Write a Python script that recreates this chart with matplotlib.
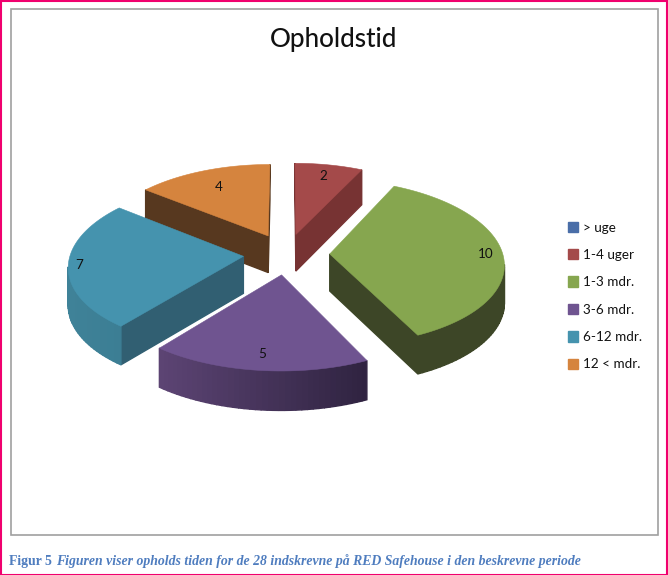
import matplotlib
matplotlib.use("Agg")
import matplotlib.pyplot as plt,numpy as np
from matplotlib.patches import Polygon,Patch,Rectangle
from matplotlib.colors import to_rgb

title="Opholdstid"
labels=["> uge","1-4 uger","1-3 mdr.","3-6 mdr.","6-12 mdr.","12 < mdr."]
values=[0,2,10,5,7,4]
colors=["#4A6EA8","#A44A4A","#86A64F","#6F5490","#4593AE","#D5843E"]
radial_colors=["#2C4265","#773333","#3D4627","#42325A","#315F72","#57381F"]
outer_left=["#2C4265","#773333","#3D4627","#5C4474","#3F8298","#57381F"]
outer_right=["#2C4265","#773333","#3D4627","#2F2340","#34748A","#57381F"]
label_r=[1,.83,.90,.84,.94,.74]
cap_a="Figur 5 "
cap_b="Figuren viser opholds tiden for de 28 indskrevne på RED Safehouse i den beskrevne periode"

# projection of the pie plane on the page, in pixels
cx,cy,rx,ry,px,py,depth,expl=286.5,254,173,82,.11,.10,37,.25

def proj(u,v):
 return cx+rx*u/(1+px*v),cy-ry*v/(1+py*v)
def drop(v):
 return depth/(1+.05*v)
def mix(a,b,t):
 a,b=np.array(to_rgb(a)),np.array(to_rgb(b))
 return tuple(a+(b-a)*t)

fig=plt.figure(figsize=(6.68,5.75),dpi=100)
ax=fig.add_axes([0,0,1,1])
ax.set_xlim(0,668);ax.set_ylim(575,0);ax.axis("off")

ax.add_patch(Rectangle((.5,.5),666.5,574,fill=False,ec="#F0006E",lw=1.5))
ax.add_patch(Rectangle((10.5,8.5),647,526,fill=False,ec="#A0A0A0",lw=1.2))

ax.text(334,39,title,ha="center",va="center",fontsize=18.8,family="Lato",weight="medium",color="#111111")

ang=np.cumsum([0]+values)/sum(values)*2*np.pi
mids=(ang[:-1]+ang[1:])/2
# painter order, back slices first
order=sorted([i for i in range(len(values)) if values[i]>0],key=lambda i:-np.cos(mids[i]))
for i in order:
 eu,ev=expl*np.sin(mids[i]),expl*np.cos(mids[i])
 t=np.linspace(ang[i],ang[i+1],max(values[i]*8,8))
 us=np.r_[eu,eu+np.sin(t)];vs=np.r_[ev,ev+np.cos(t)]
 xs,ys=proj(us,vs)
 n=len(us)
 for a in range(n):
  b=(a+1)%n
  if xs[b]>=xs[a]:continue
  rad=a==0 or b==0
  if rad:c=radial_colors[i]
  else:
   m=(xs[a]+xs[b])/2
   c=mix(outer_left[i],outer_right[i],np.clip((m-xs.min())/(xs.max()-xs.min()),0,1))
  q=[(xs[a],ys[a]),(xs[b],ys[b]),(xs[b],ys[b]+drop(vs[b])),(xs[a],ys[a]+drop(vs[a]))]
  ax.add_patch(Polygon(q,fc=c,ec=c,lw=1))
 ax.add_patch(Polygon(np.c_[xs,ys],fc=colors[i],ec=colors[i],lw=.4))

for i in range(len(values)):
 if values[i]==0:continue
 r=expl+label_r[i]
 x,y=proj(r*np.sin(mids[i]),r*np.cos(mids[i]))
 ax.text(x,y,str(values[i]),ha="center",va="center",fontsize=9.7,family="Lato",color="#111111")

h=[Patch(fc=c,ec=c) for c in colors]
ax.legend(h,labels,loc="center left",bbox_to_anchor=(555.5/668,1-296/575),frameon=False,
 prop={"family":"Lato","size":9.7},labelspacing=1.14,handlelength=.8,handleheight=.8,handletextpad=.35,labelcolor="#111111")

ta=ax.text(9,561,cap_a,ha="left",va="center",fontsize=9.93,family="Liberation Serif",weight="bold",color="#4F7DBF")
fig.canvas.draw()
e=ta.get_window_extent()
sp=e.x1+1
ax.text(sp,561,cap_b,ha="left",va="center",fontsize=9.93,family="Liberation Serif",weight="bold",style="italic",color="#4F7DBF")
fig.savefig("out.png",dpi=100)
